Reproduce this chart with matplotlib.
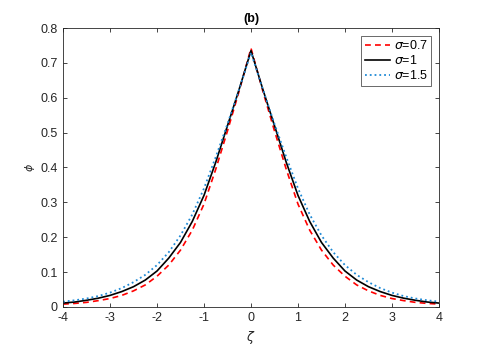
import numpy as np
import matplotlib
matplotlib.use("Agg")
import matplotlib.pyplot as plt

plt.rcParams['font.family'] = ['Liberation Sans', 'DejaVu Sans']
plt.rcParams['mathtext.fontset'] = 'dejavusans'
plt.rcParams['axes.unicode_minus'] = False

# values (curves are symmetric about zeta = 0)
zeta_half = [0, 0.25, 0.5, 0.75, 1, 1.25, 1.5, 1.75, 2, 2.25, 2.5, 2.75, 3, 3.25, 3.5, 3.75, 4]
phi_s07 = [0.742, 0.620, 0.505, 0.395, 0.295, 0.220, 0.163, 0.120, 0.088, 0.063, 0.046,
           0.033, 0.024, 0.018, 0.013, 0.010, 0.008]
phi_s10 = [0.735, 0.625, 0.520, 0.415, 0.320, 0.245, 0.185, 0.140, 0.103, 0.077, 0.058,
           0.044, 0.033, 0.025, 0.019, 0.014, 0.011]
phi_s15 = [0.730, 0.625, 0.525, 0.430, 0.340, 0.265, 0.205, 0.157, 0.120, 0.092, 0.071,
           0.054, 0.041, 0.031, 0.024, 0.019, 0.015]
labels = [r'$\sigma$=0.7', r'$\sigma$=1', r'$\sigma$=1.5']

xticks = [-4, -3, -2, -1, 0, 1, 2, 3, 4]
yticks = [0, 0.1, 0.2, 0.3, 0.4, 0.5, 0.6, 0.7, 0.8]
yticklabels = ['0', '0.1', '0.2', '0.3', '0.4', '0.5', '0.6', '0.7', '0.8']


def mirror(x, y):
    x = np.asarray(x)
    y = np.asarray(y)
    return np.r_[-x[:0:-1], x], np.r_[y[:0:-1], y]


fig = plt.figure(figsize=(4.85, 3.46), dpi=100)
ax = fig.add_axes([0.13, 0.113, 0.775, 0.806])

z, p = mirror(zeta_half, phi_s07)
ax.plot(z, p, '--', color='#ff0000', lw=1.2, dashes=(3.5, 2.5), label=labels[0])
z, p = mirror(zeta_half, phi_s10)
ax.plot(z, p, '-', color='black', lw=1.2, label=labels[1])
z, p = mirror(zeta_half, phi_s15)
ax.plot(z, p, ':', color='#1f8ad6', lw=1.3, label=labels[2])

ax.set_xlim(-4, 4)
ax.set_ylim(0, 0.8)
ax.set_xticks(xticks)
ax.set_yticks(yticks)
ax.set_yticklabels(yticklabels)
ax.tick_params(direction='in', top=True, right=True, labelsize=9,
               length=3, width=0.6, colors='#262626', pad=4)
for s in ax.spines.values():
    s.set_color('#262626')
    s.set_linewidth(0.6)

ax.set_title('(b)', fontsize=9, fontweight='bold', pad=4)
ax.set_xlabel(r'$\zeta$', fontsize=9, labelpad=3, color='#262626')
ax.set_ylabel(r'$\phi$', fontsize=8, labelpad=2, color='#262626')

leg = ax.legend(loc='upper right', fontsize=9, frameon=True, fancybox=False,
                handlelength=2.0, handletextpad=0.3, borderpad=0.3,
                labelspacing=0.15, borderaxespad=0.6)
leg.get_frame().set_edgecolor('#262626')
leg.get_frame().set_linewidth(0.6)

fig.savefig('out.png', dpi=100)
